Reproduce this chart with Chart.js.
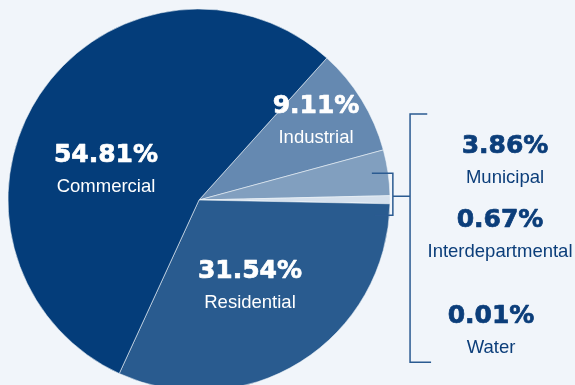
<!DOCTYPE html>
<html>
<head>
<meta charset="utf-8">
<script src="https://cdn.jsdelivr.net/npm/chart.js@4"></script>
<style>
	html, body { margin: 0; padding: 0; background: #f1f5fa; }
	canvas { display: block; }
</style>
</head>
<body>
<canvas id="usage" width="575" height="385"></canvas>
<script>
// usage share by customer class, clockwise from the top-right
const categories = ['Industrial', 'Municipal', 'Interdepartmental', 'Water', 'Residential', 'Commercial'];
const shares = [9.11, 3.86, 0.67, 0.01, 31.54, 54.81];
const sliceColors = ['#6589b1', '#819fbf', '#d6e1ed', '#d6e1ed', '#295b8f', '#043d7a'];

// label anchors, offset from the pie centre (pct baseline)
const labelSpots = {
	Commercial: [-93, -38, 'in'],
	Residential: [51, 78, 'in'],
	Industrial: [117, -87, 'in'],
	Municipal: [306, -47, 'out'],
	Interdepartmental: [301, 27, 'out'],
	Water: [292, 123, 'out']
};

const NAVY = '#0c3e7a';
const LINE = '#2b5b91';

const labelPlugin = {
	id: 'sliceLabels',
	afterDatasetsDraw(chart) {
		const ctx = chart.ctx;
		const arc = chart.getDatasetMeta(0).data[0];
		const cx = arc.x, cy = arc.y, r = arc.outerRadius;

		// brackets grouping the small slices
		ctx.save();
		ctx.strokeStyle = LINE;
		ctx.lineWidth = 1.5;
		const sx = cx + r * 1.015;
		const bx = cx + r * 1.105;
		ctx.beginPath();
		ctx.moveTo(cx + r * 0.905, cy - r * 0.14);
		ctx.lineTo(sx, cy - r * 0.14);
		ctx.lineTo(sx, cy + r * 0.08);
		ctx.lineTo(cx + r * 0.92, cy + r * 0.08);
		ctx.moveTo(sx, cy - r * 0.02);
		ctx.lineTo(bx, cy - r * 0.02);
		ctx.moveTo(cx + r * 1.195, cy - r * 0.45);
		ctx.lineTo(bx, cy - r * 0.45);
		ctx.lineTo(bx, cy + r * 0.85);
		ctx.lineTo(cx + r * 1.215, cy + r * 0.85);
		ctx.stroke();

		ctx.textAlign = 'center';
		ctx.textBaseline = 'alphabetic';
		ctx.lineJoin = 'round';
		categories.forEach((name, i) => {
			const spot = labelSpots[name];
			const x = cx + spot[0];
			const y = cy + spot[1];
			const color = spot[2] === 'in' ? '#ffffff' : NAVY;
			ctx.fillStyle = color;
			ctx.strokeStyle = color;
			ctx.lineWidth = 0.7;
			ctx.font = 'bold 25px "DejaVu Sans"';
			const pct = shares[i].toFixed(2) + '%';
			ctx.fillText(pct, x, y);
			ctx.strokeText(pct, x, y);
			ctx.font = '18.5px "Liberation Sans"';
			ctx.fillText(name, x, y + 30);
		});
		ctx.restore();
	}
};

new Chart(document.getElementById('usage'), {
	type: 'pie',
	data: {
		labels: categories,
		datasets: [
			{
				data: shares,
				backgroundColor: sliceColors,
				borderColor: 'rgba(241, 245, 250, 0.55)',
				borderWidth: 1,
				radius: 191
			}
		]
	},
	options: {
		responsive: false,
		devicePixelRatio: 1,
		animation: false,
		rotation: 42,
		layout: {
			padding: { left: 0, right: 177, top: 15, bottom: 0 }
		},
		plugins: {
			legend: { display: false },
			tooltip: { enabled: false }
		}
	},
	plugins: [labelPlugin]
});
</script>
</body>
</html>
